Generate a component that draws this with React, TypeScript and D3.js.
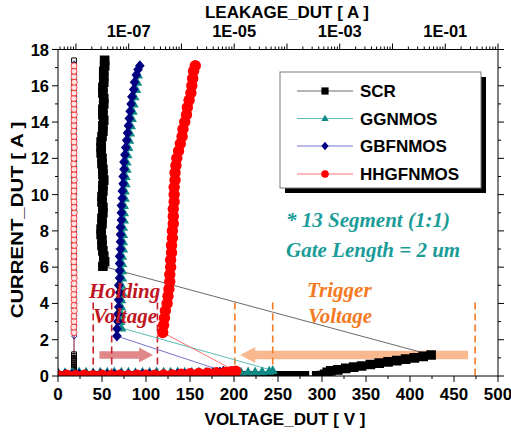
import React from 'react';
import * as d3 from 'd3';

type Pt = [number, number]; // [voltage V, current A]
type Lk = [number, number]; // [current A, leakage nA]

// TLP curves (voltage, current)
const scrTlp: Pt[] = [
  [0, 0], [10, 0], [20, 0], [30, 0.01], [40, 0], [50, 0.01], [60, 0], [70, 0.01], [80, 0.01], [90, 0],
  [100, 0.01], [110, 0.01], [120, 0], [130, 0.01], [140, 0.01], [150, 0.01], [160, 0], [170, 0.01],
  [180, 0.01], [190, 0.01], [200, 0.01], [210, 0.01], [220, 0.01], [230, 0.01], [240, 0.01], [250, 0.01],
  [260, 0.01], [270, 0.01], [280, 0.01], [294, 0.01], [300, 0.02], [303, 0.1], [306, 0.2], [310, 0.28],
  [318, 0.34], [327, 0.42], [336, 0.49], [345, 0.55], [355, 0.63], [365, 0.71], [375, 0.78], [385, 0.85],
  [395, 0.93], [405, 1.0], [415, 1.08], [424, 1.16],
  [51, 6.05], [53, 6.3], [52, 6.6], [51, 6.9], [50, 7.2], [50, 7.5], [49, 7.8], [49, 8.1], [50, 8.4],
  [50, 8.7], [51, 9.0], [51, 9.3], [50, 9.6], [50, 9.9], [51, 10.2], [51, 10.5], [52, 10.8], [51, 11.1],
  [51, 11.4], [50, 11.7], [50, 12.0], [49, 12.3], [49, 12.6], [49, 12.9], [50, 13.2], [51, 13.5],
  [51, 13.8], [52, 14.1], [51, 14.4], [51, 14.7], [52, 15.0], [52, 15.3], [51, 15.6], [51, 15.9],
  [52, 16.2], [52, 16.5], [52, 16.8], [53, 17.1], [53, 17.4]
];

const ggTlp: Pt[] = [
  [0, 0.2], [8, 0.18], [16, 0.2], [24, 0.22], [32, 0.2], [40, 0.18], [48, 0.2], [56, 0.2], [64, 0.22],
  [72, 0.2], [80, 0.2], [88, 0.18], [96, 0.2], [104, 0.2], [112, 0.22], [120, 0.2], [128, 0.2],
  [136, 0.22], [144, 0.2], [152, 0.2], [160, 0.22], [168, 0.2], [176, 0.22], [184, 0.2], [192, 0.22],
  [200, 0.22], [208, 0.2], [216, 0.22], [224, 0.22], [232, 0.24], [240, 0.26], [244, 0.3],
  [72, 2.65], [71, 3.0], [72, 3.4], [72, 3.8], [72, 4.2], [73, 4.6], [72, 5.0], [73, 5.4], [73, 5.8],
  [73, 6.2], [73, 6.6], [74, 7.0], [74, 7.4], [74, 7.8], [74, 8.2], [75, 8.6], [75, 9.0], [75, 9.4],
  [76, 9.8], [76, 10.2], [77, 10.6], [77, 11.0], [78, 11.4], [78, 11.8], [79, 12.2], [80, 12.6],
  [81, 13.0], [82, 13.4], [83, 13.8], [84, 14.2], [85, 14.6], [86, 15.0], [87, 15.4], [89, 15.8],
  [90, 16.2], [91, 16.6]
];

const gbfTlp: Pt[] = [
  [0, 0.08], [8, 0.1], [16, 0.08], [24, 0.1], [32, 0.08], [40, 0.1], [48, 0.1], [56, 0.08], [64, 0.1],
  [72, 0.1], [80, 0.08], [88, 0.1], [96, 0.1], [104, 0.1], [112, 0.08], [120, 0.1], [128, 0.1],
  [136, 0.12], [144, 0.1], [152, 0.12], [160, 0.12], [168, 0.14], [176, 0.16], [184, 0.2], [188, 0.26],
  [67, 2.2], [67, 2.6], [68, 3.0], [68, 3.4], [69, 3.8], [69, 4.2], [70, 4.6], [69, 5.0], [70, 5.4],
  [70, 5.8], [70, 6.2], [70, 6.6], [71, 7.0], [71, 7.4], [71, 7.8], [71, 8.2], [72, 8.6], [72, 9.0],
  [72, 9.4], [73, 9.8], [73, 10.2], [74, 10.6], [74, 11.0], [75, 11.4], [75, 11.8], [76, 12.2],
  [77, 12.6], [78, 13.0], [79, 13.4], [80, 13.8], [81, 14.2], [82, 14.6], [83, 15.0], [84, 15.4],
  [86, 15.8], [87, 16.2], [89, 16.6], [91, 16.9], [93, 17.1]
];

const hhgfTlp: Pt[] = [
  [0, 0.02], [10, 0.04], [20, 0.02], [30, 0.04], [40, 0.02], [50, 0.04], [60, 0.02], [70, 0.04],
  [80, 0.02], [90, 0.04], [100, 0.04], [110, 0.04], [120, 0.06], [130, 0.06], [140, 0.1], [150, 0.12],
  [160, 0.14], [170, 0.16], [180, 0.18], [190, 0.2], [197, 0.24], [202, 0.26],
  [119, 2.4], [120, 2.8], [121, 3.2], [122, 3.6], [124, 4.0], [125, 4.4], [126, 4.8], [127, 5.2],
  [127, 5.6], [128, 6.0], [128, 6.4], [129, 6.8], [129, 7.2], [130, 7.6], [130, 8.0], [131, 8.4],
  [131, 8.8], [131, 9.2], [132, 9.6], [132, 10.0], [132, 10.4], [133, 10.8], [133, 11.2], [134, 11.6],
  [135, 12.0], [137, 12.4], [139, 12.8], [141, 13.2], [142, 13.6], [144, 14.0], [146, 14.4],
  [147, 14.8], [149, 15.2], [151, 15.6], [152, 16.0], [153, 16.4], [154, 16.8], [156, 17.1]
];

// leakage after each pulse (current A, leakage nA) on the top log axis
const scrLeak: Lk[] = [
  [0, 9.2], [0.1, 9.2], [0.2, 9.2], [0.3, 9.2], [0.4, 9.1], [0.5, 9.2], [0.6, 9.2], [0.7, 9.2],
  [0.8, 9.2], [0.9, 9.2], [1.0, 9.2], [1.1, 9.2], [1.2, 9.2],
  [6.0, 9.2], [6.6, 9.2], [7.2, 9.2], [7.8, 9.2], [8.4, 9.2], [9.0, 9.2], [9.6, 9.2], [10.2, 9.2],
  [10.8, 9.2], [11.4, 9.2], [12.0, 9.2], [12.6, 9.2], [13.2, 9.2], [13.8, 9.2], [14.4, 9.2],
  [15.0, 9.2], [15.6, 9.2], [16.2, 9.2], [16.8, 9.2], [17.4, 9.2]
];
const ggLeak: Lk[] = [
  [0.2, 9.1], [2.65, 9.1], [3.25, 9.2], [3.85, 9.1], [4.45, 9.2], [5.05, 9.1], [5.65, 9.2], [6.25, 9.1],
  [6.85, 9.2], [7.45, 9.1], [8.05, 9.2], [8.65, 9.1], [9.25, 9.2], [9.85, 9.1], [10.45, 9.2],
  [11.05, 9.1], [11.65, 9.2], [12.25, 9.1], [12.85, 9.2], [13.45, 9.1], [14.05, 9.2], [14.65, 9.1],
  [15.25, 9.2], [15.85, 9.1], [16.45, 9.2]
];
const gbfLeak: Lk[] = [
  [0.1, 9.3], [2.2, 9.3], [2.8, 9.3], [3.4, 9.2], [4.0, 9.3], [4.6, 9.3], [5.2, 9.2], [5.8, 9.3],
  [6.4, 9.3], [7.0, 9.2], [7.6, 9.3], [8.2, 9.3], [8.8, 9.2], [9.4, 9.3], [10.0, 9.3], [10.6, 9.2],
  [11.2, 9.3], [11.8, 9.3], [12.4, 9.2], [13.0, 9.3], [13.6, 9.3], [14.2, 9.2], [14.8, 9.3],
  [15.4, 9.3], [16.0, 9.2], [16.6, 9.3], [17.2, 9.3]
];
const hhgfLeak: Lk[] = [
  [0.05, 9.2], [2.4, 9.2], [2.7, 9.1], [3.0, 9.2], [3.3, 9.2], [3.6, 9.3], [3.9, 9.2], [4.2, 9.2],
  [4.5, 9.1], [4.8, 9.2], [5.1, 9.2], [5.4, 9.3], [5.7, 9.2], [6.0, 9.2], [6.3, 9.1], [6.6, 9.2],
  [6.9, 9.2], [7.2, 9.3], [7.5, 9.2], [7.8, 9.2], [8.1, 9.1], [8.4, 9.2], [8.7, 9.2], [9.0, 9.3],
  [9.3, 9.2], [9.6, 9.2], [9.9, 9.1], [10.2, 9.2], [10.5, 9.2], [10.8, 9.3], [11.1, 9.2], [11.4, 9.2],
  [11.7, 9.1], [12.0, 9.2], [12.3, 9.2], [12.6, 9.3], [12.9, 9.2], [13.2, 9.2], [13.5, 9.1],
  [13.8, 9.2], [14.1, 9.2], [14.4, 9.3], [14.7, 9.2], [15.0, 9.2], [15.3, 9.1], [15.6, 9.2],
  [15.9, 9.2], [16.2, 9.3], [16.5, 9.2], [16.8, 9.2], [17.1, 9.2]
];

const seriesNames = ['SCR', 'GGNMOS', 'GBFNMOS', 'HHGFNMOS'];
const voltTicks = [0, 50, 100, 150, 200, 250, 300, 350, 400, 450, 500];
const currTicks = [0, 2, 4, 6, 8, 10, 12, 14, 16, 18];
const leakLabels = [1e-7, 1e-5, 1e-3, 1e-1];
const holdingVolts = [40, 61, 113];
const triggerVolts = [201, 244, 474];

const W = 511;
const H = 432;
const L = 58, R = 498, T = 49.5, B = 376;

const sans = '"Liberation Sans", Arial, sans-serif';
const serif = '"Liberation Serif", "Times New Roman", serif';

const shapes: Record<string, (s: number) => string> = {
  square: s => `M${-s},${-s}h${2 * s}v${2 * s}h${-2 * s}Z`,
  triangle: s => `M0,${-s * 1.1}L${s},${s * 0.7}L${-s},${s * 0.7}Z`,
  diamond: s => `M0,${-s * 1.15}L${s},0L0,${s * 1.15}L${-s},0Z`,
  circle: s => `M${-s},0a${s},${s} 0 1,0 ${2 * s},0a${s},${s} 0 1,0 ${-2 * s},0Z`
};

const styles = [
  { shape: 'square', color: '#000000', line: '#6a6a6a', size: 4.8, leakSize: 2.4 },
  { shape: 'triangle', color: '#0f8a86', line: '#5fbab3', size: 5, leakSize: 3 },
  { shape: 'diamond', color: '#000080', line: '#7474cc', size: 4.8, leakSize: 2.6 },
  { shape: 'circle', color: '#ff0000', line: '#ff7070', size: 5.7, leakSize: 3 }
];

const tlpData = [scrTlp, ggTlp, gbfTlp, hhgfTlp];
const leakData = [scrLeak, ggLeak, gbfLeak, hhgfLeak];

const fmtLeak = (v: number) => {
  const e = Math.round(Math.log10(v));
  return '1E' + (e < 0 ? '-' : '+') + String(Math.abs(e)).padStart(2, '0');
};

export default function App() {
  const x = d3.scaleLinear().domain([0, 500]).range([L, R]);
  const y = d3.scaleLinear().domain([0, 18]).range([B, T]);
  const xl = d3.scaleLog().domain([Math.pow(10, -8.34), 1]).range([L, R]);

  const tlpLine = d3.line<Pt>().x(d => x(d[0])).y(d => y(d[1]));
  const leakLine = d3.line<Lk>().x(d => xl(d[1] * 1e-9)).y(d => y(d[0]));

  const leakMinor: number[] = [];
  for (let e = -9; e <= 0; e++) {
    for (let k = 1; k <= 9; k++) {
      const v = k * Math.pow(10, e);
      if (v >= xl.domain()[0] && v <= 1) leakMinor.push(v);
    }
  }

  // arrow polygon helper (tail -> tip at a current level)
  const arrow = (v0: number, v1: number, amp: number, body: number, head: number, headLen: number) => {
    const x0 = x(v0), x1 = x(v1), yc = y(amp);
    const dir = x1 > x0 ? 1 : -1;
    const xb = x1 - dir * headLen;
    return [
      [x0, yc - body], [xb, yc - body], [xb, yc - head], [x1, yc],
      [xb, yc + head], [xb, yc + body], [x0, yc + body]
    ].map(p => p.join(',')).join(' ');
  };

  const legendY = [91, 118.5, 146, 174];

  return (
    <svg width={W} height={H} style={{ position: 'absolute', left: 0, top: 0, background: '#fff' }}>
      <defs>
        <clipPath id="plot-clip">
          <rect x={L} y={T} width={R - L} height={B - T} />
        </clipPath>
      </defs>
      <rect x={0} y={0} width={W} height={H} fill="#fff" />

      {/* annotation arrows */}
      <polygon points={arrow(47, 108, 1.16, 3.8, 7.5, 14)} fill="#dc7a7c" opacity={0.9} />
      <polygon points={arrow(466, 207, 1.16, 4.3, 8, 15)} fill="#f9b488" opacity={0.95} />

      {/* dashed marker lines */}
      {holdingVolts.map((v, i) => (
        <line key={'h' + i} x1={x(v)} x2={x(v)} y1={y(4.05)} y2={B} stroke="#c8202a" strokeWidth={1.6} strokeDasharray="7,4" />
      ))}
      {triggerVolts.map((v, i) => (
        <line key={'t' + i} x1={x(v)} x2={x(v)} y1={y(4.05)} y2={B + 4} stroke="#f47a22" strokeWidth={1.6} strokeDasharray="7,4" />
      ))}

      {/* data */}
      <g clipPath="url(#plot-clip)">
        {leakData.map((d, i) => (
          <path key={'ll' + i} d={leakLine(d) || ''} fill="none" stroke={styles[i].line} strokeWidth={1} />
        ))}
        {leakData.map((d, i) => (
          <g key={'lm' + i}>
            {d.map((p, j) => (
              <path
                key={j}
                transform={`translate(${xl(p[1] * 1e-9)},${y(p[0])})`}
                d={shapes[styles[i].shape](styles[i].leakSize)}
                fill={i === 3 ? '#ffe4e4' : 'none'}
                stroke={i === 3 ? '#ff3030' : styles[i].color}
                strokeWidth={i === 0 ? 1 : 0.9}
              />
            ))}
          </g>
        ))}
        {tlpData.map((d, i) => (
          <g key={'s' + i}>
            <path d={tlpLine(d) || ''} fill="none" stroke={styles[i].line} strokeWidth={1} />
            {d.map((p, j) => (
              <path
                key={j}
                transform={`translate(${x(p[0])},${y(p[1])})`}
                d={shapes[styles[i].shape](styles[i].size)}
                fill={styles[i].color}
              />
            ))}
          </g>
        ))}
      </g>

      {/* frame */}
      <rect x={L} y={T} width={R - L} height={B - T} fill="none" stroke="#000" strokeWidth={1} />

      {/* left & right axis ticks */}
      {d3.range(0, 19).map(v => {
        const len = v % 2 === 0 ? 6 : 3;
        return (
          <g key={'yt' + v}>
            <line x1={L - len} x2={L} y1={y(v)} y2={y(v)} stroke="#000" />
            <line x1={R} x2={R + len} y1={y(v)} y2={y(v)} stroke="#000" />
          </g>
        );
      })}
      {currTicks.map(v => (
        <text key={'yl' + v} x={L - 9} y={y(v) + 6} textAnchor="end" fontFamily={sans} fontWeight="bold" fontSize={16.5}>
          {v}
        </text>
      ))}

      {/* bottom axis */}
      {d3.range(0, 525, 25).map(v => (
        <line key={'xt' + v} x1={x(v)} x2={x(v)} y1={B} y2={B + (v % 50 === 0 ? 6 : 3)} stroke="#000" />
      ))}
      {voltTicks.map(v => (
        <text key={'xl' + v} x={x(v)} y={400} textAnchor="middle" fontFamily={sans} fontWeight="bold" fontSize={17}>
          {v}
        </text>
      ))}

      {/* top log axis */}
      {leakMinor.map((v, i) => {
        const major = Math.abs(Math.log10(v) - Math.round(Math.log10(v))) < 1e-9;
        return <line key={'lt' + i} x1={xl(v)} x2={xl(v)} y1={T} y2={T - (major ? 6 : 3)} stroke="#000" />;
      })}
      {leakLabels.map(v => (
        <text key={'ll' + v} x={xl(v)} y={37} textAnchor="middle" fontFamily={sans} fontWeight="bold" fontSize={16.5}>
          {fmtLeak(v)}
        </text>
      ))}

      {/* axis titles */}
      <text x={287} y={18} textAnchor="middle" fontFamily={sans} fontWeight="bold" fontSize={17}>
        LEAKAGE_DUT [ A ]
      </text>
      <text x={285} y={425} textAnchor="middle" fontFamily={sans} fontWeight="bold" fontSize={17}>
        VOLTAGE_DUT [ V ]
      </text>
      <text
        transform={`translate(23,220) rotate(-90) scale(1.2,1)`}
        textAnchor="middle"
        fontFamily={sans}
        fontWeight="bold"
        fontSize={17}
      >
        CURRENT_DUT [ A ]
      </text>

      {/* legend */}
      <rect x={285} y={77} width={201} height={116} fill="#000" />
      <rect x={280} y={72} width={201} height={116} fill="#fff" stroke="#7a7a7a" strokeWidth={1} />
      {seriesNames.map((name, i) => (
        <g key={'lg' + i}>
          <line x1={297} x2={353} y1={legendY[i]} y2={legendY[i]} stroke={styles[i].line} strokeWidth={1} />
          <path
            transform={`translate(325,${legendY[i]})`}
            d={shapes[styles[i].shape](i === 3 ? 3.8 : 3.6)}
            fill={styles[i].color}
          />
          <text x={360} y={legendY[i] + 6} fontFamily={sans} fontWeight="bold" fontSize={17}>
            {name}
          </text>
        </g>
      ))}

      {/* text annotations */}
      <g fontFamily={serif} fontWeight="bold" fontStyle="italic" fontSize={21}>
        <text x={286} y={227} fill="#1b9c98">* 13 Segment (1:1)</text>
        <text x={286} y={257} fill="#1b9c98">Gate Length = 2 um</text>
        <text x={89} y={298} fill="#c0161f">Holding</text>
        <text x={93} y={323} fill="#c0161f">Voltage</text>
        <text x={307} y={297} fill="#f47a22">Trigger</text>
        <text x={308} y={323} fill="#f47a22">Voltage</text>
      </g>
    </svg>
  );
}
